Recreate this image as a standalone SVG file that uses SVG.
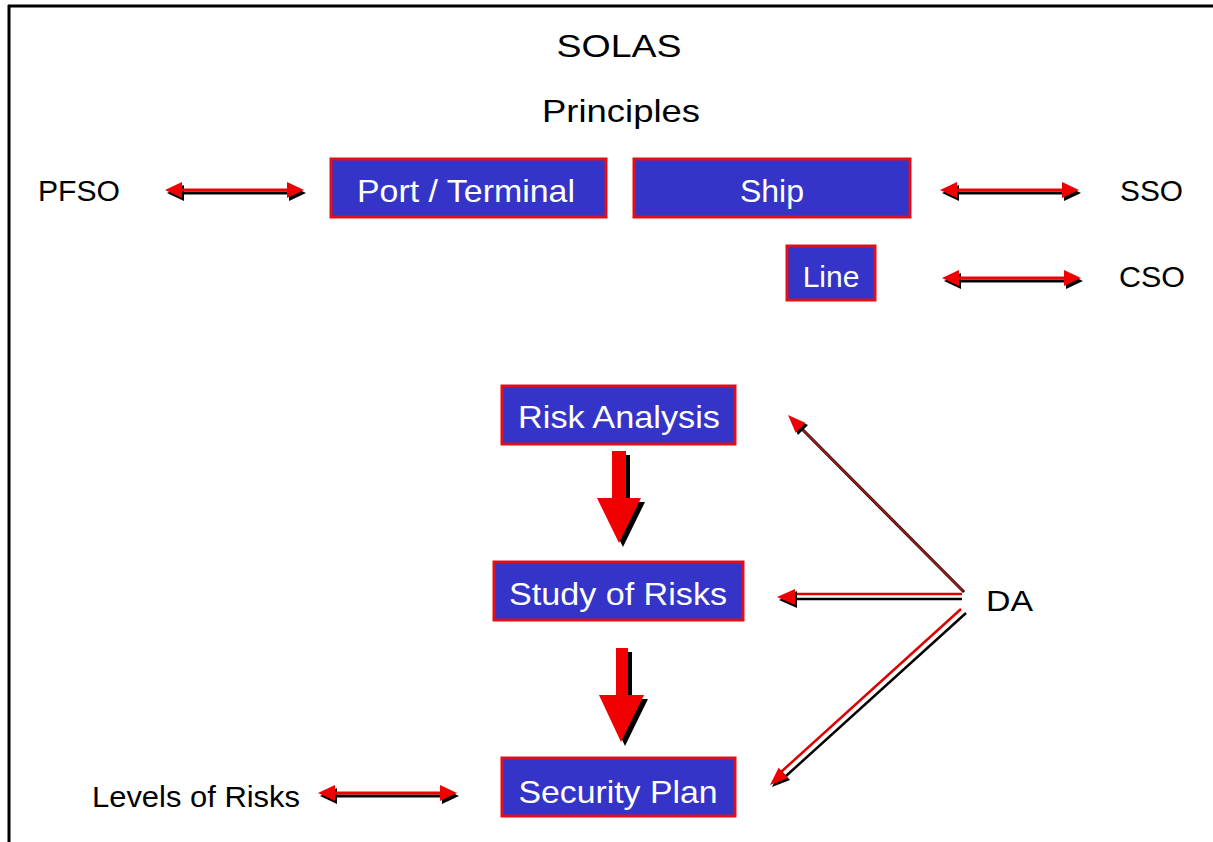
<svg xmlns="http://www.w3.org/2000/svg" xmlns:xlink="http://www.w3.org/1999/xlink" width="1213" height="842" viewBox="0 0 1213 842">
<style>
.box{fill:#3434C8;stroke:#E0101A;stroke-width:3}
.bt{font-family:"Liberation Sans",Arial,sans-serif;font-size:32px;fill:#FFFFFF;text-anchor:middle}
.lt{font-family:"Liberation Sans",Arial,sans-serif;font-size:29px;fill:#000000}
.tt{font-family:"Liberation Sans",Arial,sans-serif;font-size:32px;fill:#000000;text-anchor:middle}
.red{fill:#F00000}
.blk{fill:#000000}
</style>
<defs>
<g id="dbl">
<g transform="translate(2,3)" class="blk">
<polygon points="0,0 17,-8 17,8"/><polygon points="139,0 122,-8 122,8"/><rect x="14" y="-1.5" width="111" height="3"/>
</g>
<g class="red">
<polygon points="0,0 17,-8 17,8"/><polygon points="139,0 122,-8 122,8"/><rect x="14" y="-1.5" width="111" height="3"/>
</g>
</g>
</defs>
<rect width="1213" height="842" fill="#FFFFFF"/>
<g id="frame">
<line x1="9" y1="5" x2="9" y2="842" stroke="#000" stroke-width="3"/>
<line x1="8" y1="6" x2="1213" y2="6" stroke="#000" stroke-width="3"/>
</g>
<g id="titles">
<text class="tt" x="619" y="57" textLength="125" lengthAdjust="spacingAndGlyphs">SOLAS</text>
<text class="tt" x="621" y="122" textLength="158" lengthAdjust="spacingAndGlyphs">Principles</text>
</g>
<g id="pfso"><text class="lt" x="38" y="201" textLength="82" lengthAdjust="spacingAndGlyphs">PFSO</text></g>
<g id="sso"><text class="lt" x="1120" y="201" textLength="63" lengthAdjust="spacingAndGlyphs">SSO</text></g>
<g id="cso"><text class="lt" x="1119" y="287" textLength="66" lengthAdjust="spacingAndGlyphs">CSO</text></g>
<g id="da"><text class="lt" x="986" y="611" textLength="47" lengthAdjust="spacingAndGlyphs">DA</text></g>
<g id="levels"><text class="lt" x="92" y="807" textLength="208" lengthAdjust="spacingAndGlyphs">Levels of Risks</text></g>
<g id="port">
<rect class="box" x="331" y="159" width="275" height="58"/>
<text class="bt" x="466" y="202" textLength="218" lengthAdjust="spacingAndGlyphs">Port / Terminal</text>
</g>
<g id="ship">
<rect class="box" x="634" y="159" width="276" height="58"/>
<text class="bt" x="772" y="202">Ship</text>
</g>
<g id="line">
<rect class="box" x="787" y="246" width="88" height="54"/>
<text class="bt" x="831" y="287" style="font-size:30px">Line</text>
</g>
<g id="risk">
<rect class="box" x="502" y="386" width="233" height="58"/>
<text class="bt" x="619" y="428" textLength="202" lengthAdjust="spacingAndGlyphs">Risk Analysis</text>
</g>
<g id="study">
<rect class="box" x="494" y="562" width="249" height="58"/>
<text class="bt" x="618" y="605" textLength="218" lengthAdjust="spacingAndGlyphs">Study of Risks</text>
</g>
<g id="plan">
<rect class="box" x="502" y="758" width="233" height="58"/>
<text class="bt" x="618" y="803" textLength="199" lengthAdjust="spacingAndGlyphs">Security Plan</text>
</g>
<g id="connectors">
<use xlink:href="#dbl" x="165" y="190"/>
<use xlink:href="#dbl" x="940" y="190"/>
<use xlink:href="#dbl" x="942" y="278"/>
<use xlink:href="#dbl" x="318" y="793"/>
<polygon class="blk" points="616,455 630,455 630,502 645,502 623,547 601,502 616,502"/>
<polygon class="red" points="612,451 626,451 626,498 641,498 619,543 597,498 612,498"/>
<polygon class="blk" points="620,652 632,652 632,699 648,699 625,746 603,699 620,699"/>
<polygon class="red" points="616,648 628,648 628,695 644,695 621,742 599,695 616,695"/>
<line x1="964" y1="592" x2="801" y2="428" stroke="#000" stroke-width="3"/>
<line x1="963" y1="591" x2="800" y2="427" stroke="#9A1A1A" stroke-width="2"/>
<polygon class="blk" points="790,417 808,425 798,435"/>
<polygon class="red" points="788,415 805.7,422.9 795.7,432.7"/>
<line x1="962" y1="599" x2="792" y2="599" stroke="#000" stroke-width="2.5"/>
<line x1="962" y1="594" x2="792" y2="594" stroke="#E00000" stroke-width="2.5"/>
<polygon class="blk" points="779,600 797,591 797,608"/>
<polygon class="red" points="777,597 795,589 795,605"/>
<line x1="966" y1="613" x2="786" y2="776" stroke="#000" stroke-width="2.5"/>
<line x1="961" y1="609" x2="781" y2="772" stroke="#E00000" stroke-width="2.5"/>
<polygon class="blk" points="772,787 790,780 780.6,769.7"/>
<polygon class="red" points="770,785 788,778.1 778.6,767.7"/>
</g>
</svg>
